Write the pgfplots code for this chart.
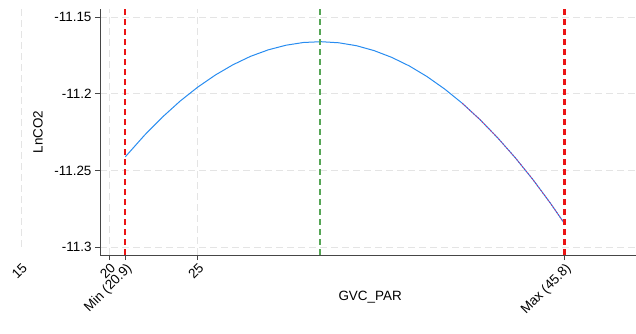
\documentclass[border=0pt]{standalone}
\usepackage{fontspec}
\setmainfont{Liberation Sans}
\usepackage{pgfplots}
\pgfplotsset{compat=1.18}
\definecolor{curveblue}{RGB}{40,140,240}
\definecolor{pinkover}{RGB}{200,40,120}
\definecolor{refred}{RGB}{235,20,20}
\definecolor{refgreen}{RGB}{85,165,85}
\definecolor{gridgray}{RGB}{228,228,228}
\definecolor{axgray}{RGB}{70,70,70}
\newcommand{\lblfont}{\fontsize{13.5}{16}\selectfont}
\begin{document}
\begin{tikzpicture}
\begin{axis}[
  at={(100bp,79bp)}, anchor=south west,
  scale only axis, width=536bp, height=246bp,
  xmin=19.46, xmax=49.85, ymin=-11.305, ymax=-11.1448,
  axis x line*=bottom, axis y line*=left,
  axis line style={axgray, line width=0.8bp},
  tick style={axgray, line width=0.8bp},
  tick align=outside, major tick length=5bp,
  clip=false,
  xtick={20,25}, xticklabels={20,25},
  extra x ticks={20.9,45.8},
  extra x tick labels={Min (20.9),Max (45.8)},
  extra x tick style={grid=none},
  xticklabel style={rotate=45, anchor=north east, inner sep=1.5bp, font=\lblfont},
  ytick={-11.3,-11.25,-11.2,-11.15},
  yticklabels={-11.3,-11.25,-11.2,-11.15},
  yticklabel style={anchor=east, font=\lblfont},
  xmajorgrids, ymajorgrids,
  major grid style={gridgray, line width=0.8bp, dash pattern=on 7bp off 4bp},
  xlabel={GVC\_PAR}, ylabel={LnCO2},
  xlabel style={at={(axis description cs:0.504,-0.171)}, anchor=center, font=\lblfont},
  ylabel style={at={(axis description cs:-0.1157,0.5)}, anchor=center, rotate=0, font=\lblfont},
]
\draw[gridgray, line width=0.8bp, dash pattern=on 7bp off 4bp] (axis cs:15,-11.1448) -- (axis cs:15,-11.3);
\node[rotate=45, anchor=north east, inner sep=1.5bp, font=\lblfont] at (axis cs:15,-11.3085) {15};
\addplot[curveblue, line width=1bp, no marks] coordinates {
(20.9,-11.2410) (21,-11.2397) (22,-11.2268) (23,-11.2152) (24,-11.2048)
(25,-11.1957) (26,-11.1878) (27,-11.1811) (28,-11.1756) (29,-11.1714)
(30,-11.1684) (31,-11.1666) (32,-11.1661) (33,-11.1668) (34,-11.1687)
(35,-11.1719) (36,-11.1763) (37,-11.1819) (38,-11.1888) (39,-11.1969)
(40,-11.2062) (41,-11.2168) (42,-11.2286) (43,-11.2416) (44,-11.2558)
(45,-11.2713) (45.8,-11.2846)
};
\addplot[pinkover, line width=0.8bp, dash pattern=on 1.5bp off 1.5bp, no marks] coordinates {
(40,-11.2062) (41,-11.2168) (42,-11.2286) (43,-11.2416) (44,-11.2558)
(45,-11.2713) (45.8,-11.2846)
};
\addplot[refgreen, line width=1.8bp, dash pattern=on 6bp off 4bp, no marks] coordinates {(31.93,-11.305) (31.93,-11.1448)};
\addplot[refred, line width=2.2bp, dash pattern=on 6bp off 4bp, no marks] coordinates {(20.9,-11.305) (20.9,-11.1448)};
\addplot[refred, line width=2.2bp, dash pattern=on 6bp off 4bp, no marks] coordinates {(45.8,-11.305) (45.8,-11.1448)};
\end{axis}
\pgfresetboundingbox
\useasboundingbox (0bp,0bp) rectangle (636bp,334bp);
\end{tikzpicture}
\end{document}
